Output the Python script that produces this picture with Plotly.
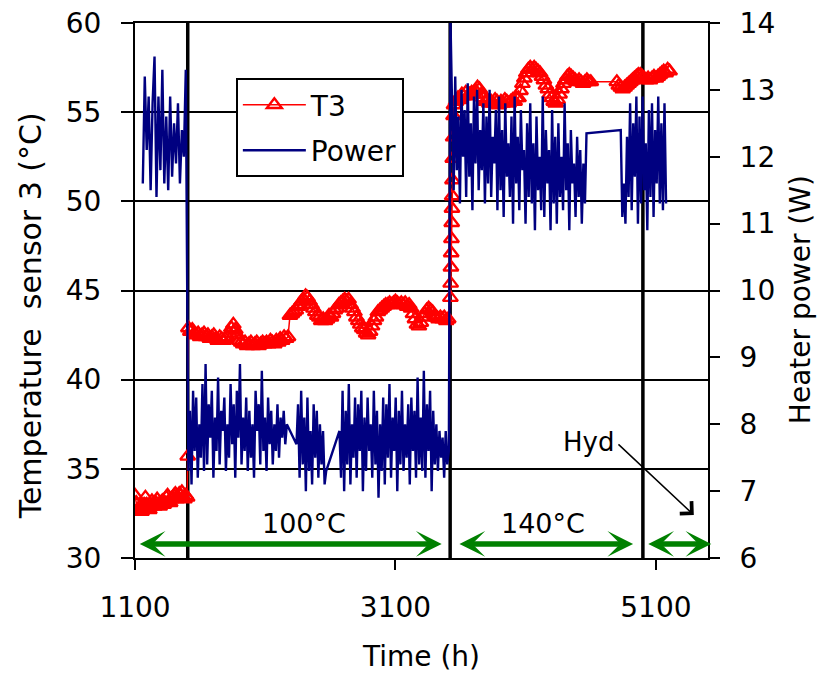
import numpy as np
import plotly.graph_objects as go

# ---------------- data ----------------
# T3 (left axis, deg C)
t3_a_start, t3_a_step = 1100, 10
t3_a = [33.5, 33.1, 32.7, 32.6, 32.9, 32.6, 32.8, 33.0, 33.4, 33.0,
        32.8, 32.7, 32.9, 33.2, 33.0, 32.9, 33.1, 33.3, 33.0, 32.9,
        33.1, 33.2, 33.0, 33.1, 33.4, 33.5, 33.2, 33.1, 33.3, 33.4,
        33.5, 33.6, 33.3, 33.4, 33.6, 33.5, 33.7, 33.4, 33.3, 33.5, 33.4]
t3_jump1_time = [1505]
t3_jump1 = [35.7]
t3_b_start, t3_b_step = 1510, 15
t3_b = [42.9, 42.7, 42.8, 42.6, 42.5, 42.6, 42.4, 42.5, 42.6, 42.4,
        42.5, 42.3, 42.4, 42.5, 42.3, 42.2, 42.4, 42.3, 42.2, 42.3,
        42.4, 42.6, 42.9, 43.1, 42.8, 42.5, 42.2, 42.1, 42.0, 42.1,
        41.9, 42.0, 42.1, 41.9, 42.0, 42.1, 41.9, 42.0, 42.1, 42.0,
        42.1, 42.0, 42.2, 42.1, 42.0, 42.2, 42.1, 42.3, 42.2, 42.4,
        42.3, 42.4, 43.6, 43.7, 43.8, 43.9, 44.1, 44.2, 44.4, 44.5,
        44.7, 44.6, 44.4, 44.2, 44.0, 43.8, 43.6, 43.5, 43.3, 43.4,
        43.3, 43.4, 43.6, 43.5, 43.7, 43.9, 44.0, 44.2, 44.3, 44.4,
        44.5, 44.4, 44.5, 44.2, 44.0, 43.8, 43.5, 43.3, 43.1, 42.9,
        42.8, 42.6, 42.5, 42.7, 43.0, 43.3, 43.5, 43.8, 43.9, 44.0,
        44.1, 44.2, 44.2, 44.3, 44.2, 44.3, 44.4, 44.3, 44.2, 44.3,
        44.2, 44.3, 44.1, 44.2, 44.0, 43.7, 43.4, 43.1, 43.0, 43.2,
        43.5, 43.7, 43.9, 44.0, 43.9, 43.8, 43.6, 43.5, 43.4, 43.5,
        43.4, 43.5, 43.3, 43.4]
t3_jump2_time = [3522, 3524, 3526, 3528, 3530, 3532, 3534, 3536, 3538, 3540, 3543, 3546]
t3_jump2 = [44.6, 45.4, 46.3, 47.1, 47.9, 48.8, 49.6, 50.3, 51.2, 52.4, 53.6, 54.8]
t3_c_start, t3_c_step = 3550, 15
t3_c = [55.4, 55.6, 55.8, 55.7, 56.0, 55.9, 56.1, 55.9, 56.0, 56.1,
        56.0, 56.2, 56.4, 56.3, 56.0, 55.8, 55.6, 55.7, 55.5, 55.6,
        55.5, 55.7, 55.6, 55.4, 55.6, 55.5, 55.7, 55.6, 55.5, 55.6,
        55.7, 55.6, 55.8, 55.8, 56.2, 56.6, 56.9, 57.2, 57.4, 57.5,
        57.4, 57.5, 57.4, 57.3, 57.2, 57.0, 56.8, 56.5, 56.3, 56.0,
        55.8, 55.6, 55.5, 55.7, 56.0, 56.3, 56.6, 56.8, 57.0, 57.1,
        57.0, 56.9, 56.8, 56.7, 56.8, 56.7, 56.6, 56.7, 56.8, 56.7, 56.7]
t3_d_start, t3_d_step = 4800, 15
t3_d = [56.7, 56.5, 56.4, 56.3, 56.4, 56.5, 56.6, 56.7, 56.8, 56.9,
        57.0, 57.1, 57.1, 57.0, 56.9, 56.8, 56.9, 56.8, 56.9, 57.0,
        56.9, 57.0, 57.1, 57.2, 57.3, 57.2, 57.4, 57.3]

# Heater power (right axis, W)
pw_a_start, pw_a_step = 1160, 15
pw_a = [11.6, 13.2, 12.1, 12.9, 11.5, 12.8, 13.5, 11.4, 12.9, 11.8,
        13.3, 11.6, 12.6, 11.5, 12.9, 11.7, 12.5, 11.9, 12.8, 11.6,
        12.4, 12.0, 13.3]
pw_b1_start, pw_b_step = 1510, 12
pw_b1 = [7.3, 8.2, 7.1, 8.5, 7.6, 8.4, 7.2, 8.0, 7.5, 8.6,
         7.3, 8.9, 7.4, 8.3, 7.8, 8.5, 7.2, 8.1, 7.6, 8.7,
         7.4, 8.2, 7.9, 8.4, 7.3, 8.0, 7.5, 8.6, 7.7, 8.3,
         7.2, 8.5, 7.8, 8.9, 7.4, 8.1, 7.6, 8.4, 7.3, 8.2,
         7.5, 8.0, 7.2, 8.5, 7.9, 8.3, 7.4, 8.8, 7.6, 8.1,
         7.3, 8.4, 7.7, 8.2, 7.4, 8.0, 7.6, 8.3, 7.5, 8.1,
         7.8, 8.2, 7.7, 8.0]
pw_b2_start = 2340
pw_b2 = [7.7, 8.3, 7.2, 8.5, 7.4, 8.1, 7.0, 8.4, 7.3, 7.9,
         7.1, 8.3, 7.5, 8.2, 7.2, 8.0, 7.4, 7.9, 7.1, 7.3]
pw_b3_start = 2670
pw_b3 = [7.9, 7.2, 8.5, 7.0, 8.2, 7.4, 8.6, 7.1, 8.0, 7.5,
         8.4, 7.2, 8.3, 7.6, 8.5, 7.0, 8.1, 7.3, 8.4, 7.6,
         8.0, 7.2, 8.5, 7.4, 8.2, 6.9, 8.0, 7.3, 8.4, 7.1,
         8.3, 7.5, 8.6, 7.2, 8.1, 7.6, 8.4, 7.0, 8.2, 7.4,
         8.5, 7.3, 8.0, 7.5, 8.3, 7.1, 8.4, 7.6, 8.2, 7.2,
         8.7, 7.4, 8.1, 7.3, 8.8, 7.2, 8.3, 7.6, 8.5, 7.0,
         8.2, 7.4, 8.0, 7.3, 7.9, 7.5, 7.8, 7.2, 7.9, 7.4, 7.6]
pw_spike_time = [3522]
pw_spike = [14.1]
pw_c1_start, pw_c_step = 3535, 12
pw_c1 = [12.9, 11.5, 13.2, 11.8, 12.6, 11.3, 13.0, 12.0, 12.7, 11.4,
         13.1, 11.7, 12.5, 11.2, 12.9, 11.9, 13.0, 11.5, 12.4, 11.8,
         12.8, 11.3, 12.6, 11.6, 13.0, 11.4, 12.3, 11.9, 12.7, 11.2,
         12.9, 11.5, 12.4, 11.1, 12.8, 11.7, 12.2, 11.4, 12.6, 11.0,
         12.9, 11.6, 12.3, 11.2, 12.7, 11.8, 12.1, 11.0, 12.5, 11.4,
         12.8, 11.3, 12.2, 10.9, 12.6, 11.5, 12.0, 11.2, 12.9, 11.1,
         12.4, 11.6, 12.1, 10.9, 12.7, 11.3, 12.3, 11.0, 12.5, 11.4,
         12.0, 11.2, 12.8, 11.5, 12.2, 10.9, 12.4, 11.6, 11.9, 11.1,
         12.3, 11.4, 12.1, 11.0, 11.9, 11.3, 12.35]
pw_c2_start = 4830
pw_c2 = [12.4, 11.1, 11.6, 11.0, 12.3, 11.4, 12.8, 11.2, 12.5, 11.7,
         12.9, 11.0, 12.6, 11.3, 12.9, 11.5, 12.2, 10.9, 12.7, 11.4,
         12.8, 11.1, 12.4, 11.6, 12.9, 11.3, 12.5, 11.2, 12.8, 11.3]

# period boundaries and labels
period_bounds = [1505, 3520, 5000]
period_arrows = [(1125, 3455), (3580, 4925), (5030, 5525)]
period_labels = ["100°C", "140°C"]
period_label_x = [2400, 4232]
hyd_text = "Hyd"

x_ticks = [1100, 3100, 5100]


def seg(start, step, vals):
    return list(start + step * np.arange(len(vals))), list(vals)


t3_x, t3_y = [], []
for xs, ys in [seg(t3_a_start, t3_a_step, t3_a), (t3_jump1_time, t3_jump1),
               seg(t3_b_start, t3_b_step, t3_b), (t3_jump2_time, t3_jump2),
               seg(t3_c_start, t3_c_step, t3_c), seg(t3_d_start, t3_d_step, t3_d)]:
    t3_x += list(xs)
    t3_y += list(ys)

pw_x, pw_y = [], []
for xs, ys in [seg(pw_a_start, pw_a_step, pw_a), seg(pw_b1_start, pw_b_step, pw_b1),
               seg(pw_b2_start, pw_b_step, pw_b2), seg(pw_b3_start, pw_b_step, pw_b3),
               (pw_spike_time, pw_spike), seg(pw_c1_start, pw_c_step, pw_c1),
               seg(pw_c2_start, pw_c_step, pw_c2)]:
    pw_x += list(xs)
    pw_y += list(ys)

FONT = "DejaVu Sans"
GREEN = "#008000"

fig = go.Figure()
fig.add_trace(go.Scatter(
    x=t3_x, y=t3_y, name="T3", mode="lines+markers", legendgroup="a",
    line=dict(color="red", width=1.5),
    marker=dict(symbol="triangle-up-open", size=13, color="red", line=dict(width=2.4, color="red")),
    yaxis="y"))
fig.add_trace(go.Scatter(
    x=pw_x, y=pw_y, name="Power", mode="lines", legendgroup="b",
    line=dict(color="#000080", width=2.4), yaxis="y2"))

shapes = []
for b in period_bounds:
    shapes.append(dict(type="line", xref="x", yref="paper", x0=b, x1=b, y0=0, y1=1,
                       line=dict(color="black", width=3.5), layer="between"))

annotations = []
for (a0, a1) in period_arrows:
    annotations.append(dict(x=a1, y=30.79, ax=a0, ay=30.79, xref="x", yref="y",
                            axref="x", ayref="y", text="", showarrow=True,
                            arrowhead=3, startarrowhead=3, arrowside="end+start",
                            arrowsize=0.78, startarrowsize=0.78, arrowwidth=5.5,
                            arrowcolor=GREEN, standoff=0, startstandoff=0))
for lab, lx in zip(period_labels, period_label_x):
    annotations.append(dict(x=lx, y=31.96, xref="x", yref="y", text=lab, showarrow=False,
                            font=dict(family=FONT, size=27, color="black")))
annotations.append(dict(x=4579, y=36.5, xref="x", yref="y", text=hyd_text, showarrow=False,
                        font=dict(family=FONT, size=26, color="black")))
annotations.append(dict(x=5391, y=32.41, ax=4801, ay=36.45, xref="x", yref="y",
                        axref="x", ayref="y", text="", showarrow=True,
                        arrowhead=4, arrowsize=2.2, arrowwidth=1.5, arrowcolor="black",
                        standoff=0))
# axis titles (placed as rotated text)
annotations.append(dict(x=-0.183, y=0.452, xref="paper", yref="paper",
                        text="Temperature\u00a0 sensor 3 (°C)", textangle=-90, showarrow=False,
                        xanchor="center", yanchor="middle",
                        font=dict(family=FONT, size=30, color="black")))
annotations.append(dict(x=1.1606, y=0.482, xref="paper", yref="paper",
                        text="Heater power (W)", textangle=-90, showarrow=False,
                        xanchor="center", yanchor="middle",
                        font=dict(family=FONT, size=28, color="black")))

fig.update_layout(
    width=822, height=675,
    margin=dict(l=135, r=114, t=23, b=117, autoexpand=False),
    paper_bgcolor="white", plot_bgcolor="white",
    font=dict(family=FONT, size=28, color="black"),
    showlegend=True,
    legend=dict(x=0.176, y=0.897, xanchor="left", yanchor="top",
                bgcolor="white", bordercolor="black", borderwidth=2,
                font=dict(family=FONT, size=28, color="black"),
                itemwidth=63, tracegroupgap=6, traceorder="grouped"),
    xaxis=dict(range=[1100, 5500], tickvals=x_ticks, ticks="outside", ticklen=10,
               tickwidth=2, tickcolor="black", showline=True, linecolor="black",
               linewidth=2, mirror=True, showgrid=False, zeroline=False,
               tickfont=dict(family=FONT, size=28), ticklabelstandoff=13,
               title=dict(text="Time (h)", font=dict(family=FONT, size=28), standoff=24)),
    yaxis=dict(range=[30, 60], dtick=5, ticks="outside", ticklen=12, tickwidth=2,
               tickcolor="black", showline=True, linecolor="black", linewidth=2,
               showgrid=True, gridcolor="black", gridwidth=1.5, zeroline=False,
               tickfont=dict(family=FONT, size=28), ticklabelstandoff=14),
    yaxis2=dict(range=[6, 14], dtick=1, overlaying="y", side="right", anchor="x",
                ticks="outside", ticklen=10, tickwidth=2, tickcolor="black",
                showline=True, linecolor="black", linewidth=2, showgrid=False,
                zeroline=False, tickfont=dict(family=FONT, size=28), ticklabelstandoff=14),
    yaxis3=dict(range=[6, 14], dtick=1, overlaying="y", side="right", anchor="x",
                ticks="inside", ticklen=10, tickwidth=2, tickcolor="black",
                showline=False, showgrid=False, zeroline=False, showticklabels=False),
    shapes=shapes,
    annotations=annotations,
)

fig.write_html("out.html")
